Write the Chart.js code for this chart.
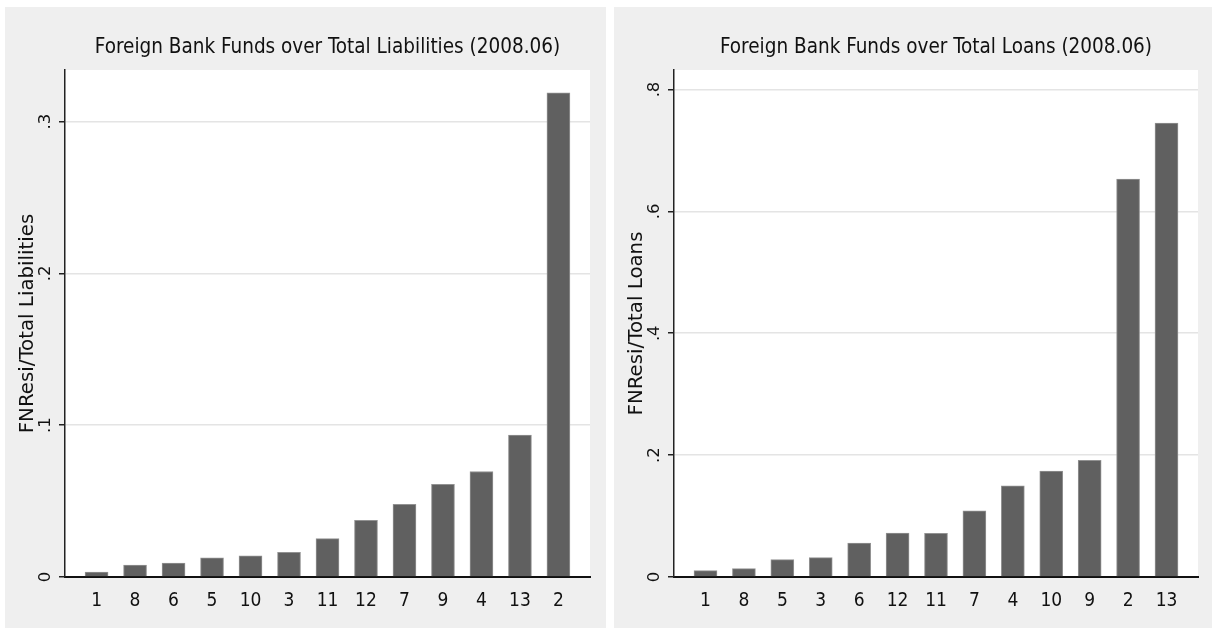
<!DOCTYPE html>
<html><head><meta charset="utf-8">
<script src="https://cdn.jsdelivr.net/npm/chart.js@4.4.0/dist/chart.umd.min.js"></script>
<style>
html,body{margin:0;padding:0;background:#fff;width:1212px;height:628px;overflow:hidden}
.panel{position:absolute;background:#efefef}
#p1{left:5px;top:7px;width:601px;height:621px}
#p2{left:614px;top:7px;width:598px;height:621px}
canvas{display:block}
</style></head><body>
<div class="panel" id="p1"><canvas id="c1" width="601" height="621"></canvas></div>
<div class="panel" id="p2"><canvas id="c2" width="598" height="621"></canvas></div>
<script>
// Left panel: Foreign Bank Funds over Total Liabilities
const liabCategories = ['1','8','6','5','10','3','11','12','7','9','4','13','2'];
const liabValues = [0.0033,0.0078,0.0091,0.0127,0.0140,0.0162,0.0253,0.0373,0.0478,0.0610,0.0695,0.0935,0.3190];
const liabTicks = [0, 0.1, 0.2, 0.3];
const liabTickLabels = ['0', '.1', '.2', '.3'];

// Right panel: Foreign Bank Funds over Total Loans
const loanCategories = ['1','8','5','3','6','12','11','7','4','10','9','2','13'];
const loanValues = [0.0104,0.0137,0.0284,0.0317,0.0558,0.0720,0.0718,0.1085,0.1496,0.1737,0.1913,0.6530,0.7450];
const loanTicks = [0, 0.2, 0.4, 0.6, 0.8];
const loanTickLabels = ['0', '.2', '.4', '.6', '.8'];

const NARROW = "'DejaVu Sans Condensed', 'Liberation Sans Narrow', sans-serif";
const SANS = "'DejaVu Sans', sans-serif";

const plotBg = {
  id: 'plotBg',
  beforeDraw(chart) {
    const {ctx, chartArea: a} = chart;
    ctx.save();
    ctx.fillStyle = '#ffffff';
    ctx.fillRect(a.left, a.top, a.right - a.left, a.bottom - a.top);
    ctx.restore();
  }
};

function makeChart(id, title, yTitle, cats, vals, yTicks, yTickLabels, yMax, rightPad) {
  const data = cats.map((c, i) => ({x: i, y: vals[i]}));
  return new Chart(document.getElementById(id), {
    type: 'bar',
    data: {
      datasets: [{
        data: data,
        backgroundColor: '#606060',
        borderColor: '#929292',
        borderWidth: 1,
        borderSkipped: 'start',
        barThickness: 23
      }]
    },
    plugins: [plotBg],
    options: {
      responsive: false,
      animation: false,
      devicePixelRatio: 1,
      layout: {padding: {left: 0, right: rightPad, top: 0, bottom: 0}},
      plugins: {
        legend: {display: false},
        tooltip: {enabled: false},
        title: {
          display: true,
          text: title,
          fullSize: false,
          color: '#111',
          font: {family: NARROW, size: 20.5, weight: 'normal'},
          padding: {top: 28, bottom: 10.4}
        }
      },
      scales: {
        x: {
          type: 'linear',
          offset: false,
          min: -0.82,
          max: 12.82,
          afterBuildTicks(s) { s.ticks = cats.map((c, i) => ({value: i})); },
          afterFit(s) { s.height = 51; },
          grid: {display: false, drawTicks: false, offset: false},
          border: {display: true, color: '#111', width: 2},
          ticks: {
            autoSkip: false,
            maxRotation: 0,
            minRotation: 0,
            padding: 13,
            color: '#111',
            font: {family: NARROW, size: 19},
            callback: (v) => cats[v]
          }
        },
        y: {
          type: 'linear',
          min: 0,
          max: yMax,
          afterBuildTicks(s) { s.ticks = yTicks.map(v => ({value: v})); },
          afterFit(s) { s.width = 60; },
          grid: {color: '#e4e4e4', lineWidth: 1.5, tickLength: 6, tickColor: '#222', drawTicks: true},
          border: {display: true, color: '#222', width: 1.5},
          title: {
            display: true,
            text: yTitle,
            color: '#111',
            font: {family: SANS, size: 19.8},
            padding: {top: 11, bottom: 0}
          },
          ticks: {
            minRotation: 90,
            maxRotation: 90,
            crossAlign: 'center',
            padding: 5,
            color: '#111',
            font: {family: SANS, size: 16.5},
            callback: (v) => {
              const k = yTicks.findIndex(t => Math.abs(t - v) < 1e-9);
              return k >= 0 ? yTickLabels[k] : '';
            }
          }
        }
      }
    }
  });
}

makeChart('c1', 'Foreign Bank Funds over Total Liabilities (2008.06)', 'FNResi/Total Liabilities',
  liabCategories, liabValues, liabTicks, liabTickLabels, 0.334, 16);
makeChart('c2', 'Foreign Bank Funds over Total Loans (2008.06)', 'FNResi/Total Loans',
  loanCategories, loanValues, loanTicks, loanTickLabels, 0.832, 14);
</script>
</body></html>
